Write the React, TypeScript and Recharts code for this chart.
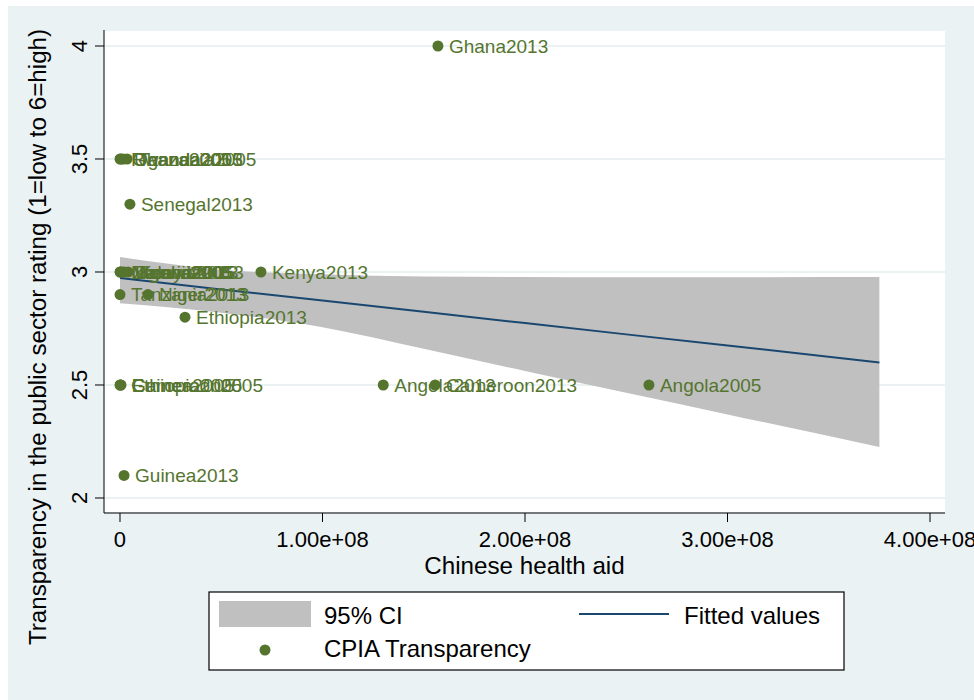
import {
  Area,
  CartesianGrid,
  ComposedChart,
  Line,
  Scatter,
  XAxis,
  YAxis,
} from 'recharts'

const FONT = '"Liberation Sans", Arial, Helvetica, sans-serif'
const BG = '#eaf2f3'
const GREEN = '#55752f'
const NAVY = '#1a476f'
const CI_GRAY = '#c0c0c0'

// country-year labels, Chinese health aid (USD) and CPIA transparency rating
const pointNames = [
  'Ghana2013',
  'Rwanda2013', 'Ghana2005', 'Uganda2005', 'Tanzania2005',
  'Senegal2013',
  'Malawi2005', 'Nigeria2005', 'Zambia2013', 'Uganda2013', 'Kenya2005',
  'Kenya2013',
  'Tanzania2013', 'Niger2013',
  'Ethiopia2013',
  'Guinea2005', 'Ethiopia2005', 'Cameroon2005',
  'Angola2013', 'Cameroon2013', 'Angola2005',
  'Guinea2013',
]
const pointAid = [
  1.57e8,
  0, 0.005e8, 0.015e8, 0.035e8,
  0.049e8,
  0, 0.002e8, 0.01e8, 0.02e8, 0.04e8,
  0.696e8,
  0, 0.138e8,
  0.321e8,
  0, 0.002e8, 0.005e8,
  1.3e8, 1.556e8, 2.612e8,
  0.02e8,
]
const pointCpia = [
  4,
  3.5, 3.5, 3.5, 3.5,
  3.3,
  3, 3, 3, 3, 3,
  3,
  2.9, 2.9,
  2.8,
  2.5, 2.5, 2.5,
  2.5, 2.5, 2.5,
  2.1,
]

// linear fit and its 95% confidence band
const fitAid = [0, 0.5e8, 1e8, 1.5e8, 2e8, 2.5e8, 3e8, 3.75e8]
const fitValues = [2.973, 2.923, 2.874, 2.824, 2.774, 2.724, 2.675, 2.6]
const ciLow = [2.862, 2.82, 2.755, 2.66, 2.562, 2.466, 2.37, 2.226]
const ciHigh = [3.066, 3.01, 2.99, 2.98, 2.978, 2.977, 2.977, 2.978]

const xTicks = [0, 1e8, 2e8, 3e8, 4e8]
const xTickLabels = ['0', '1.00e+08', '2.00e+08', '3.00e+08', '4.00e+08']
const yTicks = [2, 2.5, 3, 3.5, 4]
const yTickLabels = ['2', '2.5', '3', '3.5', '4']

const bandData = fitAid.map((x, i) => ({
  x,
  fit: fitValues[i],
  band: [ciLow[i], ciHigh[i]],
}))
const pointData = pointNames.map((name, i) => ({
  name,
  x: pointAid[i],
  y: pointCpia[i],
}))

const PointMark = (props: any) => {
  const { cx, cy, payload } = props
  return (
    <g>
      <circle cx={cx} cy={cy} r={5.5} fill={GREEN} />
      <text
        x={cx + 11}
        y={cy}
        dy="0.36em"
        fill={GREEN}
        fontSize={19}
        fontFamily={FONT}
      >
        {payload.name}
      </text>
    </g>
  )
}

const YTick = (props: any) => {
  const { x, y, payload } = props
  const i = yTicks.indexOf(payload.value)
  return (
    <text
      transform={`translate(${x - 6},${y}) rotate(-90)`}
      textAnchor="middle"
      fill="#000"
      fontSize={22}
      fontFamily={FONT}
    >
      {yTickLabels[i]}
    </text>
  )
}

function Legend() {
  return (
    <svg
      width={638}
      height={80}
      style={{ position: 'absolute', left: 200, top: 585 }}
    >
      <rect x={1} y={1} width={635} height={78} fill="#fff" stroke="#000" strokeWidth={1.2} />
      <rect x={11} y={10} width={92} height={26} fill={CI_GRAY} />
      <text x={116} y={33} fontSize={24} fontFamily={FONT} fill="#000">95% CI</text>
      <line x1={371} x2={461} y1={23} y2={23} stroke={NAVY} strokeWidth={2} />
      <text x={476} y={33} fontSize={24} fontFamily={FONT} fill="#000">Fitted values</text>
      <circle cx={57} cy={59} r={5.5} fill={GREEN} />
      <text x={116} y={66} fontSize={24} fontFamily={FONT} fill="#000">CPIA Transparency</text>
    </svg>
  )
}

export default function App() {
  return (
    <div
      style={{
        position: 'absolute',
        left: 8,
        top: 6,
        width: 966,
        height: 694,
        background: BG,
        overflow: 'hidden',
      }}
    >
      <ComposedChart
        width={966}
        height={694}
        data={bandData}
        margin={{ top: 24, right: 29, bottom: 0, left: 0 }}
      >
        <CartesianGrid vertical={false} fill="#fff" stroke={BG} strokeWidth={2} />
        <XAxis
          dataKey="x"
          type="number"
          domain={[-7.9e6, 4.074e8]}
          allowDataOverflow
          ticks={xTicks}
          interval={0}
          tickFormatter={(v) => xTickLabels[xTicks.indexOf(Number(v))]}
          height={187}
          tickSize={9}
          tickMargin={9}
          stroke="#000"
          tick={{ fill: '#000', fontSize: 22, fontFamily: FONT }}
          label={{
            content: (p: any) => {
              const vb = p.viewBox
              return (
                <text
                  x={vb.x + vb.width / 2}
                  y={vb.y + 61}
                  textAnchor="middle"
                  fill="#000"
                  fontSize={24.2}
                  fontFamily={FONT}
                >
                  Chinese health aid
                </text>
              )
            },
          }}
        />
        <YAxis
          type="number"
          domain={[1.9336, 4.0708]}
          allowDataOverflow
          ticks={yTicks}
          interval={0}
          width={96}
          tickSize={9}
          tickMargin={2}
          stroke="#000"
          tick={<YTick />}
          label={{
            content: () => (
              <text
                transform="translate(38,331) rotate(-90)"
                textAnchor="middle"
                fill="#000"
                fontSize={24.2}
                fontFamily={FONT}
              >
                Transparency in the public sector rating (1=low to 6=high)
              </text>
            ),
          }}
        />
        <Area
          dataKey="band"
          type="monotone"
          fill={CI_GRAY}
          fillOpacity={1}
          stroke="none"
          isAnimationActive={false}
        />
        <Line
          dataKey="fit"
          type="linear"
          stroke={NAVY}
          strokeWidth={2}
          dot={false}
          isAnimationActive={false}
        />
        <Scatter
          data={pointData}
          dataKey="y"
          shape={<PointMark />}
          isAnimationActive={false}
        />
      </ComposedChart>
      <Legend />
    </div>
  )
}
